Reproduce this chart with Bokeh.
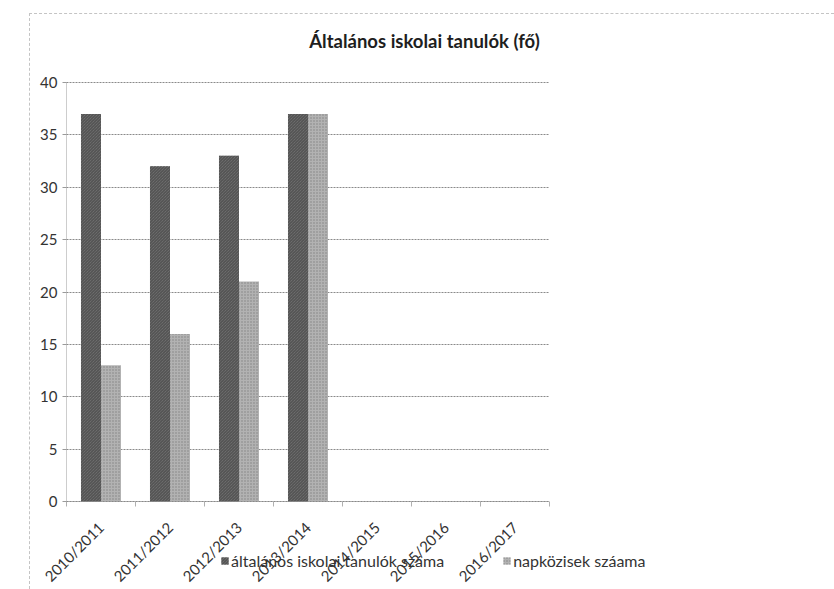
from bokeh.plotting import figure
from bokeh.models import (ColumnDataSource, Range1d, Legend, LegendItem, Label,
                          FixedTicker, LinearAxis)
from bokeh.transform import dodge
from bokeh.embed import file_html
from bokeh.resources import INLINE
import math

categories = ["2010/2011", "2011/2012", "2012/2013", "2013/2014", "2014/2015", "2015/2016", "2016/2017"]
tanulok = [37, 32, 33, 37, 0, 0, 0]
napkozisek = [13, 16, 21, 37, 0, 0, 0]
series_names = ["általános iskolai tanulók száma", "napközisek száama"]
title_text = "Általános iskolai tanulók (fő)"
y_ticks = [0, 5, 10, 15, 20, 25, 30, 35, 40]

FONT = "Lato"
W, H = 805, 576

n = len(categories)
centers = [i + 0.5 for i in range(n)]
bounds_x = list(range(n + 1))

src = ColumnDataSource(dict(xc=centers, cat=categories, a=tanulok, b=napkozisek))

p = figure(
    x_range=Range1d(-36 / 69, (W - 36) / 69),
    y_range=Range1d(-(H - 487) / 10.475, 487 / 10.475),
    width=W, height=H,
    output_backend="svg", toolbar_location=None,
    x_axis_location=None, y_axis_location=None,
    min_border_left=0, min_border_right=0, min_border_top=0, min_border_bottom=0,
    margin=(13, 0, 0, 29),
    styles={"border-top": "1px dashed #c4c4c4", "border-left": "1px dashed #c4c4c4"},
)
p.outline_line_color = None
p.title = None

# horizontal grid lines, limited to the category area
g = p.ygrid[0]
g.ticker = FixedTicker(ticks=y_ticks)
g.grid_line_color = "#8a8a8a"
g.grid_line_dash = "2 1"
if "cross_bounds" in g.properties():
    g.cross_bounds = (0, n)
else:
    g.grid_line_color = None
    gsrc = ColumnDataSource(dict(x0=[0] * len(y_ticks), x1=[n] * len(y_ticks), y=y_ticks))
    p.segment(x0="x0", x1="x1", y0="y", y1="y", source=gsrc,
              line_color="#8a8a8a", line_dash="2 1", line_width=1)
p.xgrid.grid_line_color = None

ra = p.vbar(x=dodge("xc", -0.145), top="a", width=0.29, source=src,
            fill_color="#787878", line_color=None,
            hatch_pattern="\\", hatch_color="#4a4a4a", hatch_scale=3, hatch_weight=1)
rb = p.vbar(x=dodge("xc", 0.145), top="b", width=0.29, source=src,
            fill_color="#b2b2b2", line_color=None,
            hatch_pattern=".", hatch_color="#828282", hatch_scale=3, hatch_weight=1)

yaxis = LinearAxis(fixed_location=0, ticker=FixedTicker(ticks=y_ticks), bounds=(0, 40))
yaxis.major_label_text_font = FONT
yaxis.major_label_text_font_size = "15px"
yaxis.major_label_text_color = "#333333"
yaxis.axis_line_color = "#9a9a9a"
yaxis.axis_line_dash = "1 1"
yaxis.major_tick_line_color = "#9a9a9a"
yaxis.major_tick_out = 4
yaxis.major_tick_in = 0
yaxis.minor_tick_line_color = None
p.add_layout(yaxis, "left")

xaxis = LinearAxis(fixed_location=0, ticker=FixedTicker(ticks=centers, minor_ticks=bounds_x),
                   bounds=(0, n))
xaxis.major_label_overrides = {c: lab for c, lab in zip(centers, categories)}
xaxis.major_label_orientation = math.pi / 4
xaxis.major_label_text_font = FONT
xaxis.major_label_text_font_size = "15px"
xaxis.major_label_text_color = "#333333"
xaxis.axis_line_color = "#8a8a8a"
xaxis.axis_line_dash = "2 1"
xaxis.major_tick_line_color = None
xaxis.minor_tick_line_color = "#b0b0b0"
xaxis.minor_tick_out = 5
xaxis.minor_tick_in = 0
xaxis.major_label_standoff = 17
p.add_layout(xaxis, "below")

title = Label(x=394, y=H - 26, x_units="screen", y_units="screen", text=title_text,
              text_font=FONT, text_font_size="18.5px", text_font_style="bold",
              text_color="#1e1e1e", text_align="center", text_baseline="middle")
p.add_layout(title)

legend = Legend(
    items=[LegendItem(label=series_names[0], renderers=[ra]),
           LegendItem(label=series_names[1], renderers=[rb])],
    orientation="horizontal", location=(190, 20),
    padding=0, margin=0, spacing=58, glyph_width=9, glyph_height=9,
    label_standoff=2, label_height=16,
    label_text_font=FONT, label_text_font_size="16px", label_text_color="#333333",
    background_fill_alpha=0, border_line_color=None,
)
p.add_layout(legend, "center")

open("out.html", "w").write(file_html(p, INLINE))
